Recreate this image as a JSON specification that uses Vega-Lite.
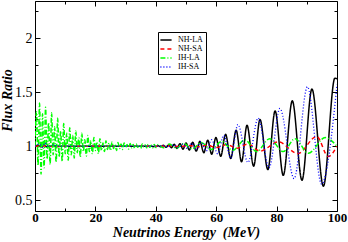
{
  "$schema": "https://vega.github.io/schema/vega-lite/v6.json",
  "width": 302,
  "height": 210,
  "autosize": "none",
  "padding": {"left": 35, "top": 1, "right": 11, "bottom": 31},
  "background": "white",
  "data": {"values": [
    {"s":"NH-LA","x":0,"y":1.0},{"s":"NH-LA","x":1,"y":1.008},{"s":"NH-LA","x":2,"y":0.994},{"s":"NH-LA","x":3,"y":1.006},{"s":"NH-LA","x":4,"y":0.997},{"s":"NH-LA","x":5,"y":1.002},{"s":"NH-LA","x":8,"y":1.0},{"s":"NH-LA","x":20,"y":1.0},{"s":"NH-LA","x":30,"y":1.0},{"s":"NH-LA","x":38,"y":1.0},
    {"s":"NH-LA","x":40.0,"y":0.997},{"s":"NH-LA","x":40.8,"y":1.005},{"s":"NH-LA","x":41.6,"y":0.994},{"s":"NH-LA","x":42.5,"y":1.009},{"s":"NH-LA","x":43.4,"y":0.99},{"s":"NH-LA","x":44.3,"y":1.013},{"s":"NH-LA","x":45.2,"y":0.986},{"s":"NH-LA","x":46.1,"y":1.018},{"s":"NH-LA","x":47.0,"y":0.98},{"s":"NH-LA","x":48.0,"y":1.024},{"s":"NH-LA","x":49.0,"y":0.972},{"s":"NH-LA","x":50.0,"y":1.03},{"s":"NH-LA","x":51.1,"y":0.965},{"s":"NH-LA","x":52.2,"y":1.037},{"s":"NH-LA","x":53.4,"y":0.955},{"s":"NH-LA","x":54.6,"y":1.045},{"s":"NH-LA","x":55.9,"y":0.94},{"s":"NH-LA","x":57.2,"y":1.056},{"s":"NH-LA","x":58.5,"y":0.926},{"s":"NH-LA","x":59.9,"y":1.08},{"s":"NH-LA","x":61.5,"y":0.907},{"s":"NH-LA","x":63.1,"y":1.11},{"s":"NH-LA","x":64.8,"y":0.886},{"s":"NH-LA","x":66.6,"y":1.148},{"s":"NH-LA","x":68.4,"y":0.855},{"s":"NH-LA","x":70.2,"y":1.194},{"s":"NH-LA","x":72.4,"y":0.815},{"s":"NH-LA","x":74.5,"y":1.247},{"s":"NH-LA","x":77.1,"y":0.784},{"s":"NH-LA","x":79.5,"y":1.327},{"s":"NH-LA","x":82.2,"y":0.73},{"s":"NH-LA","x":85.2,"y":1.42},{"s":"NH-LA","x":88.4,"y":0.685},{"s":"NH-LA","x":91.7,"y":1.53},{"s":"NH-LA","x":95.5,"y":0.63},{"s":"NH-LA","x":99.3,"y":1.63},{"s":"NH-LA","x":100,"y":1.625},
    {"s":"NH-SA","x":0,"y":1.0},{"s":"NH-SA","x":3,"y":1.004},{"s":"NH-SA","x":6,"y":0.997},{"s":"NH-SA","x":10,"y":1.0},{"s":"NH-SA","x":40,"y":1.0},{"s":"NH-SA","x":45,"y":1.003},{"s":"NH-SA","x":48,"y":0.997},{"s":"NH-SA","x":51,"y":1.006},{"s":"NH-SA","x":54,"y":0.994},{"s":"NH-SA","x":57,"y":1.01},{"s":"NH-SA","x":60,"y":0.988},{"s":"NH-SA","x":63.5,"y":1.015},{"s":"NH-SA","x":67,"y":0.982},{"s":"NH-SA","x":70.5,"y":1.02},{"s":"NH-SA","x":74.5,"y":0.955},{"s":"NH-SA","x":80.6,"y":1.04},{"s":"NH-SA","x":87,"y":0.932},{"s":"NH-SA","x":93.3,"y":1.09},{"s":"NH-SA","x":97.1,"y":0.905},{"s":"NH-SA","x":100,"y":1.0},
    {"s":"IH-LA","x":0,"y":1.0},{"s":"IH-LA","x":0.5,"y":1.32},{"s":"IH-LA","x":1.0,"y":0.82},{"s":"IH-LA","x":1.5,"y":1.4},{"s":"IH-LA","x":2.0,"y":0.74},{"s":"IH-LA","x":2.5,"y":1.3},{"s":"IH-LA","x":3.0,"y":0.8},{"s":"IH-LA","x":3.5,"y":1.36},{"s":"IH-LA","x":4.0,"y":0.88},{"s":"IH-LA","x":4.5,"y":1.22},{"s":"IH-LA","x":5.0,"y":0.83},{"s":"IH-LA","x":5.5,"y":1.31},{"s":"IH-LA","x":6.0,"y":0.92},{"s":"IH-LA","x":6.5,"y":1.18},{"s":"IH-LA","x":7.0,"y":0.85},{"s":"IH-LA","x":7.5,"y":1.26},{"s":"IH-LA","x":8.0,"y":0.9},{"s":"IH-LA","x":8.5,"y":1.14},{"s":"IH-LA","x":9.0,"y":0.86},{"s":"IH-LA","x":9.5,"y":1.21},{"s":"IH-LA","x":10,"y":0.93},{"s":"IH-LA","x":10.5,"y":1.12},{"s":"IH-LA","x":11,"y":0.87},{"s":"IH-LA","x":11.5,"y":1.17},{"s":"IH-LA","x":12,"y":0.92},{"s":"IH-LA","x":12.5,"y":1.1},{"s":"IH-LA","x":13,"y":0.89},{"s":"IH-LA","x":13.5,"y":1.14},{"s":"IH-LA","x":14,"y":0.94},{"s":"IH-LA","x":14.5,"y":1.08},{"s":"IH-LA","x":15,"y":0.9},{"s":"IH-LA","x":15.5,"y":1.12},{"s":"IH-LA","x":16,"y":0.95},{"s":"IH-LA","x":16.5,"y":1.06},{"s":"IH-LA","x":17,"y":0.91},{"s":"IH-LA","x":17.5,"y":1.1},{"s":"IH-LA","x":18,"y":0.95},{"s":"IH-LA","x":18.5,"y":1.05},{"s":"IH-LA","x":19,"y":0.93},{"s":"IH-LA","x":19.5,"y":1.08},{"s":"IH-LA","x":20,"y":0.96},{"s":"IH-LA","x":20.5,"y":1.04},{"s":"IH-LA","x":21,"y":0.93},{"s":"IH-LA","x":21.5,"y":1.07},{"s":"IH-LA","x":22,"y":0.96},{"s":"IH-LA","x":22.5,"y":1.03},{"s":"IH-LA","x":23,"y":0.95},{"s":"IH-LA","x":23.5,"y":1.05},{"s":"IH-LA","x":24,"y":0.97},{"s":"IH-LA","x":24.5,"y":1.03},{"s":"IH-LA","x":25,"y":0.96},{"s":"IH-LA","x":25.5,"y":1.04},{"s":"IH-LA","x":26,"y":0.98},{"s":"IH-LA","x":26.5,"y":1.02},{"s":"IH-LA","x":27,"y":0.96},{"s":"IH-LA","x":27.5,"y":1.035},{"s":"IH-LA","x":28,"y":0.98},{"s":"IH-LA","x":28.5,"y":1.02},{"s":"IH-LA","x":29,"y":0.97},{"s":"IH-LA","x":29.5,"y":1.03},{"s":"IH-LA","x":30,"y":0.985},{"s":"IH-LA","x":30.5,"y":1.015},{"s":"IH-LA","x":31,"y":0.975},{"s":"IH-LA","x":31.5,"y":1.025},{"s":"IH-LA","x":32,"y":0.985},{"s":"IH-LA","x":32.5,"y":1.015},{"s":"IH-LA","x":33,"y":0.98},{"s":"IH-LA","x":33.5,"y":1.02},{"s":"IH-LA","x":34,"y":0.99},{"s":"IH-LA","x":34.5,"y":1.01},{"s":"IH-LA","x":35,"y":0.98},{"s":"IH-LA","x":35.5,"y":1.02},{"s":"IH-LA","x":36,"y":0.99},{"s":"IH-LA","x":36.5,"y":1.012},{"s":"IH-LA","x":37,"y":0.985},{"s":"IH-LA","x":37.5,"y":1.018},{"s":"IH-LA","x":38,"y":0.99},{"s":"IH-LA","x":38.5,"y":1.01},{"s":"IH-LA","x":39,"y":0.985},{"s":"IH-LA","x":39.5,"y":1.015},{"s":"IH-LA","x":40,"y":0.988},{"s":"IH-LA","x":40.8,"y":1.015},{"s":"IH-LA","x":42.5,"y":0.985},{"s":"IH-LA","x":44.5,"y":1.02},{"s":"IH-LA","x":46.8,"y":0.98},{"s":"IH-LA","x":49.3,"y":1.025},{"s":"IH-LA","x":52,"y":0.975},{"s":"IH-LA","x":55,"y":1.035},{"s":"IH-LA","x":58.3,"y":0.97},{"s":"IH-LA","x":61.8,"y":1.045},{"s":"IH-LA","x":65.5,"y":0.962},{"s":"IH-LA","x":69.5,"y":1.06},{"s":"IH-LA","x":73.4,"y":0.95},{"s":"IH-LA","x":77.7,"y":1.07},{"s":"IH-LA","x":82.2,"y":0.95},{"s":"IH-LA","x":86.1,"y":1.07},{"s":"IH-LA","x":90.5,"y":0.935},{"s":"IH-LA","x":96.1,"y":1.08},{"s":"IH-LA","x":100,"y":1.0},
    {"s":"IH-SA","x":0,"y":1.0},{"s":"IH-SA","x":1.5,"y":1.02},{"s":"IH-SA","x":2.5,"y":0.99},{"s":"IH-SA","x":3.3,"y":1.03},{"s":"IH-SA","x":4.5,"y":0.995},{"s":"IH-SA","x":6,"y":1.01},{"s":"IH-SA","x":8,"y":1.0},{"s":"IH-SA","x":40,"y":1.0},{"s":"IH-SA","x":42.5,"y":1.005},{"s":"IH-SA","x":44,"y":0.995},{"s":"IH-SA","x":45.8,"y":1.01},{"s":"IH-SA","x":47.7,"y":0.988},{"s":"IH-SA","x":49,"y":1.02},{"s":"IH-SA","x":50.4,"y":0.98},{"s":"IH-SA","x":51.8,"y":1.028},{"s":"IH-SA","x":53.4,"y":0.97},{"s":"IH-SA","x":55,"y":1.04},{"s":"IH-SA","x":56.7,"y":0.955},{"s":"IH-SA","x":58.5,"y":1.06},{"s":"IH-SA","x":60.5,"y":0.93},{"s":"IH-SA","x":62.5,"y":1.1},{"s":"IH-SA","x":64.8,"y":0.89},{"s":"IH-SA","x":67.2,"y":1.2},{"s":"IH-SA","x":70.5,"y":0.85},{"s":"IH-SA","x":73.9,"y":1.26},{"s":"IH-SA","x":77.5,"y":0.8},{"s":"IH-SA","x":81.1,"y":1.35},{"s":"IH-SA","x":85.8,"y":0.7},{"s":"IH-SA","x":90.2,"y":1.55},{"s":"IH-SA","x":94.9,"y":0.65},{"s":"IH-SA","x":100,"y":1.57}
  ]},
  "encoding": {
    "color": {"field": "s", "type": "nominal",
      "scale": {"domain": ["NH-LA","NH-SA","IH-LA","IH-SA"], "range": ["#000000","#ff0000","#00ff00","#0000ff"]},
      "legend": {"title": null}},
    "strokeDash": {"field": "s", "type": "nominal",
      "scale": {"domain": ["NH-LA","NH-SA","IH-LA","IH-SA"], "range": [[1,0],[4,3],[5,2,1,2],[1,2]]},
      "legend": {"title": null}}
  },
  "layer": [
    {
      "transform": [{"filter": "datum.s === 'NH-LA'"}],
      "mark": {"type": "line", "interpolate": "monotone", "strokeWidth": 1.5, "clip": true},
      "encoding": {
        "x": {"field": "x", "type": "quantitative", "scale": {"domain": [0, 100], "nice": false, "zero": false},
          "axis": {"orient": "bottom", "values": [0,20,40,60,80,100], "format": "d", "tickSize": -5, "labelPadding": 5,
            "labelFontSize": 13, "labelFontWeight": "bold",
            "title": "Neutrinos Energy \u00a0(MeV)", "titleFontSize": 14, "titleFontWeight": "bold", "titleFontStyle": "italic",
            "titleY": 25, "titleBaseline": "alphabetic"}},
        "y": {"field": "y", "type": "quantitative", "scale": {"domain": [0.4, 2.345], "nice": false, "zero": false},
          "axis": {"orient": "left", "values": [0.5,1,1.5,2], "format": "~f", "tickSize": -5, "labelPadding": 8,
            "labelFontSize": 14, "labelFontWeight": "normal",
            "title": "Flux Ratio", "titleFontSize": 14, "titleFontWeight": "bold", "titleFontStyle": "italic",
            "titleX": -28, "titleY": 99, "titleBaseline": "middle"}}
      }
    },
    {
      "transform": [{"filter": "datum.s === 'NH-SA'"}],
      "mark": {"type": "line", "interpolate": "monotone", "strokeWidth": 1.5, "clip": true},
      "encoding": {
        "x": {"field": "x", "type": "quantitative", "scale": {"domain": [0, 100], "nice": false, "zero": false},
          "axis": {"orient": "bottom", "values": [10,30,50,70,90], "tickSize": -3, "labels": false, "title": null}},
        "y": {"field": "y", "type": "quantitative", "scale": {"domain": [0.4, 2.345], "nice": false, "zero": false},
          "axis": {"orient": "left", "values": [0.75,1.25,1.75,2.25], "tickSize": -3, "labels": false, "title": null}}
      }
    },
    {
      "transform": [{"filter": "datum.s === 'IH-LA'"}],
      "mark": {"type": "line", "interpolate": "monotone", "strokeWidth": 1.5, "clip": true},
      "encoding": {
        "x": {"field": "x", "type": "quantitative", "scale": {"domain": [0, 100], "nice": false, "zero": false},
          "axis": {"orient": "top", "values": [0,20,40,60,80,100], "tickSize": -5, "labels": false, "title": null}},
        "y": {"field": "y", "type": "quantitative", "scale": {"domain": [0.4, 2.345], "nice": false, "zero": false},
          "axis": {"orient": "right", "values": [0.5,1,1.5,2], "tickSize": -5, "labels": false, "title": null}}
      }
    },
    {
      "transform": [{"filter": "datum.s === 'IH-SA'"}],
      "mark": {"type": "line", "interpolate": "monotone", "strokeWidth": 1.3, "clip": true},
      "encoding": {
        "x": {"field": "x", "type": "quantitative", "scale": {"domain": [0, 100], "nice": false, "zero": false},
          "axis": {"orient": "top", "values": [10,30,50,70,90], "tickSize": -3, "labels": false, "title": null}},
        "y": {"field": "y", "type": "quantitative", "scale": {"domain": [0.4, 2.345], "nice": false, "zero": false},
          "axis": {"orient": "right", "values": [0.75,1.25,1.75,2.25], "tickSize": -3, "labels": false, "title": null}}
      }
    }
  ],
  "resolve": {"axis": {"x": "independent", "y": "independent"}},
  "config": {
    "font": "Liberation Serif",
    "view": {"stroke": "black", "strokeWidth": 1},
    "axis": {"grid": false, "domain": false, "tickColor": "black", "tickWidth": 1, "labelColor": "black", "titleColor": "black",
      "labelFont": "Liberation Serif", "titleFont": "Liberation Serif", "labelFlush": false, "labelOverlap": false},
    "legend": {"orient": "none", "legendX": 123, "legendY": 31, "strokeColor": "black", "fillColor": "white", "padding": 3,
      "labelFont": "Liberation Serif", "labelFontSize": 8, "labelColor": "black", "symbolType": "M-1.4,0H1.4", "symbolSize": 64,
      "symbolStrokeWidth": 1.5, "rowPadding": 0, "labelOffset": 7, "cornerRadius": 0}
  }
}
